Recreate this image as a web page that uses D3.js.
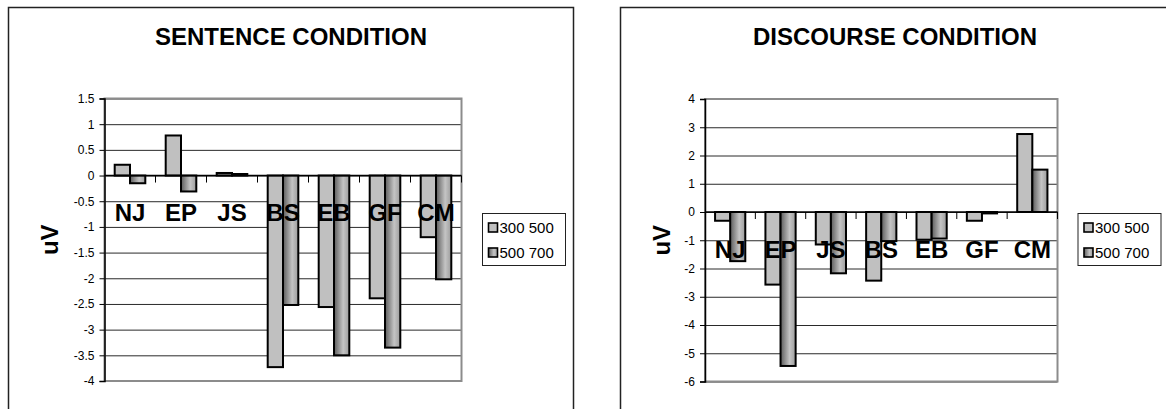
<!DOCTYPE html>
<html>
<head>
<meta charset="utf-8">
<script src="https://cdn.jsdelivr.net/npm/d3@7"></script>
<style>
  body { margin: 0; background: #fff; }
  text { font-family: "Liberation Sans", Arial, sans-serif; }
</style>
</head>
<body>
<svg width="1166" height="409"></svg>
<script>
// data
var categories = ["NJ", "EP", "JS", "BS", "EB", "GF", "CM"];
var seriesNames = ["300 500", "500 700"];

var sentence300 = [0.21, 0.78, 0.05, -3.73, -2.56, -2.39, -1.2];
var sentence500 = [-0.15, -0.31, 0.03, -2.52, -3.5, -3.35, -2.02];
var sentenceTicks = [1.5, 1, 0.5, 0, -0.5, -1, -1.5, -2, -2.5, -3, -3.5, -4];

var discourse300 = [-0.31, -2.57, -1.15, -2.43, -0.98, -0.31, 2.76];
var discourse500 = [-1.74, -5.45, -2.17, -1.03, -0.94, -0.05, 1.5];
var discourseTicks = [4, 3, 2, 1, 0, -1, -2, -3, -4, -5, -6];

var svg = d3.select("svg");
svg.append("rect").attr("width", 1166).attr("height", 409).attr("fill", "#fff");

// gradient used for the second series
var grad = svg.append("defs").append("linearGradient")
    .attr("id", "darkGrad").attr("x1", 0).attr("x2", 1).attr("y1", 0).attr("y2", 0);
grad.append("stop").attr("offset", "0%").attr("stop-color", "#5c5c5c");
grad.append("stop").attr("offset", "60%").attr("stop-color", "#c4c4c4");
grad.append("stop").attr("offset", "100%").attr("stop-color", "#9c9c9c");

var fills = ["#c0c0c0", "url(#darkGrad)"];

function drawChart(opts) {
  var g = svg.append("g");

  // outer frame
  g.append("rect")
      .attr("x", opts.box[0]).attr("y", 7.5)
      .attr("width", opts.box[1] - opts.box[0]).attr("height", 420)
      .attr("fill", "none").attr("stroke", "#222").attr("stroke-width", 1.5);

  g.append("text")
      .attr("x", (opts.box[0] + opts.box[1]) / 2).attr("y", 45)
      .attr("text-anchor", "middle")
      .style("font-size", "24px").style("font-weight", "bold")
      .text(opts.title);

  var ticks = opts.ticks;
  var y = d3.scaleLinear()
      .domain([d3.min(ticks), d3.max(ticks)])
      .range([opts.bottom, opts.top]);

  var x = d3.scaleBand().domain(categories).range([opts.left, opts.right]);
  var cw = x.bandwidth();
  var xs = d3.scaleBand().domain(seriesNames).range([cw * 0.2, cw * 0.8]);

  // gridlines
  g.append("g")
      .attr("transform", "translate(" + opts.left + ",0)")
      .call(d3.axisLeft(y).tickValues(ticks).tickSize(-(opts.right - opts.left)).tickFormat(""))
      .call(function(s) { s.select(".domain").remove(); })
      .selectAll("line").attr("stroke", "#2a2a2a").attr("stroke-width", 1);

  // plot border
  g.append("rect")
      .attr("x", opts.left).attr("y", opts.top)
      .attr("width", opts.right - opts.left).attr("height", opts.bottom - opts.top)
      .attr("fill", "none").attr("stroke", "#8c8c8c").attr("stroke-width", 2);

  // y axis
  var yAxis = g.append("g")
      .attr("transform", "translate(" + opts.left + ",0)")
      .call(d3.axisLeft(y).tickValues(ticks).tickSize(5).tickPadding(5)
            .tickFormat(function(d) { return String(d); }));
  yAxis.select(".domain").attr("stroke", "#000").attr("stroke-width", 1.5);
  yAxis.selectAll("text")
      .style("font-size", "12px").style("font-family", "'Liberation Sans', Arial, sans-serif")
      .attr("fill", "#000");

  // bars
  var rows = categories.map(function(c, i) {
    return { cat: c, vals: [opts.s1[i], opts.s2[i]] };
  });
  var groups = g.selectAll(".grp").data(rows).enter().append("g")
      .attr("transform", function(d) { return "translate(" + x(d.cat) + ",0)"; });
  groups.selectAll("rect")
      .data(function(d) { return d.vals.map(function(v, k) { return { s: seriesNames[k], v: v, k: k }; }); })
      .enter().append("rect")
      .attr("x", function(d) { return xs(d.s); })
      .attr("width", xs.bandwidth())
      .attr("y", function(d) { return y(Math.max(0, d.v)); })
      .attr("height", function(d) { return Math.abs(y(d.v) - y(0)); })
      .attr("fill", function(d) { return fills[d.k]; })
      .attr("stroke", "#000").attr("stroke-width", 2);

  // x axis on zero line
  var y0 = y(0);
  g.append("line")
      .attr("x1", opts.left).attr("x2", opts.right)
      .attr("y1", y0).attr("y2", y0)
      .attr("stroke", "#000").attr("stroke-width", 1.5);
  g.selectAll(".xt").data(categories).enter().append("line")
      .attr("x1", function(d) { return x(d) + cw; })
      .attr("x2", function(d) { return x(d) + cw; })
      .attr("y1", y0).attr("y2", y0 + 7)
      .attr("stroke", "#000").attr("stroke-width", 1);

  g.selectAll(".xl").data(categories).enter().append("text")
      .attr("x", function(d) { return x(d) + cw / 2; })
      .attr("y", y0 + 45.5)
      .attr("text-anchor", "middle")
      .style("font-size", "24px").style("font-weight", "bold")
      .text(function(d) { return d; });

  // axis title
  g.append("text")
      .attr("transform", "translate(" + opts.titleX + "," + ((opts.top + opts.bottom) / 2) + ") rotate(-90)")
      .attr("text-anchor", "middle").attr("dy", "0.35em")
      .style("font-size", "24px").style("font-weight", "bold")
      .text("uV");

  // legend
  var lg = g.append("g").attr("transform", "translate(" + opts.legendX + ",213.5)");
  lg.append("rect").attr("width", 83).attr("height", 52)
      .attr("fill", "#fff").attr("stroke", "#222").attr("stroke-width", 1);
  seriesNames.forEach(function(name, k) {
    var cy = 14 + k * 25;
    lg.append("rect").attr("x", 6).attr("y", cy - 4.5).attr("width", 9).attr("height", 9)
        .attr("fill", fills[k]).attr("stroke", "#000").attr("stroke-width", 1.6);
    lg.append("text").attr("x", 17).attr("y", cy).attr("dy", "0.36em")
        .style("font-size", "15px").text(name);
  });
}

drawChart({
  title: "SENTENCE CONDITION",
  box: [8.5, 573.5],
  left: 104.5, right: 461.5, top: 98.5, bottom: 381,
  ticks: sentenceTicks, s1: sentence300, s2: sentence500,
  titleX: 50, legendX: 482.5
});

drawChart({
  title: "DISCOURSE CONDITION",
  box: [620.5, 1169.5],
  left: 705, right: 1057.5, top: 99, bottom: 381.5,
  ticks: discourseTicks, s1: discourse300, s2: discourse500,
  titleX: 661.5, legendX: 1078
});
</script>
</body>
</html>
